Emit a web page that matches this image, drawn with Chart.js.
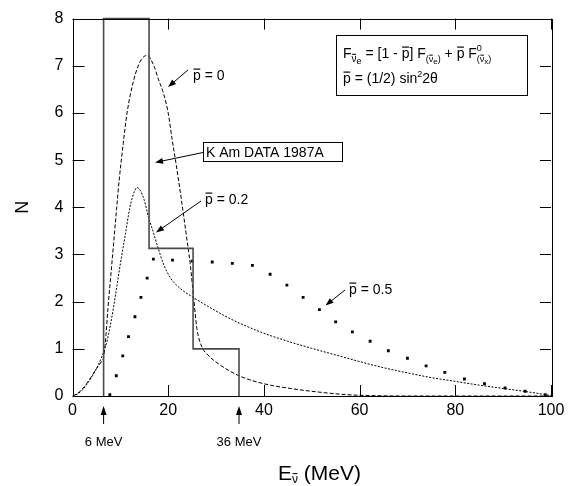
<!DOCTYPE html>
<html>
<head>
  <title>SN1987A spectrum</title>
  <script src="https://cdn.jsdelivr.net/npm/chart.js"></script>
  <style>
    html, body { margin: 0; padding: 0; background: #fff; }
    #wrap { width: 572px; height: 486px; }
  </style>
</head>
<body>
<div id="wrap"><canvas id="spec" width="572" height="486"></canvas></div>

<script>
  const FONT = '"Liberation Sans", Arial, sans-serif';

  // histogram (K Am data 1987A): bin edges and heights
  const histEdges = [6.5, 16, 25.2, 34.8];
  const histHeights = [8, 3.13, 1];

  // p = 0 curve
  const p0E = [0, 1, 2, 3, 4, 5, 6, 6.5, 7, 7.4, 8, 8.6, 9.2, 9.8, 10.6, 11.4, 12.8, 14.2, 15.6, 17, 18, 19, 20, 20.8, 21.6, 22.9, 23.8, 24.6, 25.3, 26, 27, 28.1, 30, 32.5, 35, 40, 45.5, 50, 57, 62, 70, 100];
  const p0N = [0, 0.05, 0.14, 0.27, 0.42, 0.58, 0.72, 0.82, 1.3, 1.85, 2.55, 3.24, 3.95, 4.62, 5.35, 6.0, 6.7, 7.1, 7.22, 7.0, 6.7, 6.42, 6.0, 5.45, 4.95, 4.06, 3.4, 2.8, 2.1, 1.43, 1.05, 0.89, 0.72, 0.55, 0.42, 0.26, 0.16, 0.1, 0.03, 0.01, 0, 0];

  // p = 0.2 curve
  const p02E = [0, 1, 2, 3, 4, 5, 6, 7, 8, 9, 10, 11, 12, 13, 13.5, 14.2, 15, 15.9, 16.8, 17.7, 19, 20.5, 22.5, 24.6, 28, 31.6, 35, 40, 45, 50, 55, 60, 65, 70, 75, 80, 85, 90, 95, 100];
  const p02N = [0, 0.04, 0.12, 0.25, 0.4, 0.58, 0.8, 1.08, 1.55, 2.15, 2.8, 3.4, 4.0, 4.35, 4.42, 4.35, 4.15, 3.79, 3.5, 3.2, 2.8, 2.5, 2.28, 2.13, 1.92, 1.71, 1.54, 1.33, 1.16, 1.01, 0.87, 0.73, 0.6, 0.49, 0.39, 0.31, 0.23, 0.16, 0.09, 0.01];

  // p = 0.5 curve (dots)
  const p05E = [7.8, 9.15, 10.5, 11.7, 13.05, 14.3, 15.6, 16.9, 20.9, 25.0, 29.2, 33.4, 37.6, 41.3, 44.8, 48.2, 51.6, 55.0, 58.5, 62.2, 66.0, 70.0, 73.9, 77.8, 81.9, 86.1, 90.4, 94.6, 98.8];
  const p05N = [0.03, 0.43, 0.85, 1.26, 1.68, 2.09, 2.5, 2.9, 2.88, 2.86, 2.84, 2.81, 2.77, 2.58, 2.35, 2.09, 1.83, 1.57, 1.36, 1.16, 0.96, 0.8, 0.64, 0.5, 0.36, 0.26, 0.17, 0.1, 0.03];

  const xTicks = [0, 20, 40, 60, 80, 100];
  const yTicks = [0, 1, 2, 3, 4, 5, 6, 7, 8];

  const pts = (xs, ys) => xs.map((x, i) => ({x: x, y: ys[i]}));

  const histPts = [];
  histHeights.forEach((h, i) => {
    if (i === 0) histPts.push({x: histEdges[0], y: 0});
    histPts.push({x: histEdges[i], y: h});
    histPts.push({x: histEdges[i + 1], y: h});
  });
  histPts.push({x: histEdges[histEdges.length - 1], y: 0});

  // little helpers for the drawn annotations
  function arrow(ctx, x1, y1, x2, y2, head) {
    const a = Math.atan2(y2 - y1, x2 - x1);
    head = head || 8;
    ctx.beginPath();
    ctx.moveTo(x1, y1);
    ctx.lineTo(x2 - Math.cos(a) * head * 0.7, y2 - Math.sin(a) * head * 0.7);
    ctx.stroke();
    ctx.beginPath();
    ctx.moveTo(x2, y2);
    ctx.lineTo(x2 - head * Math.cos(a) + 3 * Math.sin(a), y2 - head * Math.sin(a) - 3 * Math.cos(a));
    ctx.lineTo(x2 - head * Math.cos(a) - 3 * Math.sin(a), y2 - head * Math.sin(a) + 3 * Math.cos(a));
    ctx.closePath();
    ctx.fill();
  }

  // parts: [text, size, dy, bar, noAdvance]
  function rich(ctx, x, y, parts) {
    parts.forEach(p => {
      const [t, size, dy, bar, keep] = p;
      ctx.font = size + 'px ' + FONT;
      const w = ctx.measureText(t).width;
      ctx.fillText(t, x, y + (dy || 0));
      if (bar) {
        const by = y + (dy || 0) - size * 0.82;
        ctx.fillRect(x + 0.5, by, w - 1, Math.max(1, size / 12));
      }
      if (!keep) x += w;
    });
    return x;
  }

  const decor = {
    id: 'decor',
    afterDraw(chart) {
      const {ctx, chartArea: a, scales: {x, y}} = chart;
      ctx.save();
      ctx.strokeStyle = '#000';
      ctx.fillStyle = '#000';
      ctx.lineWidth = 1;
      // frame
      ctx.strokeRect(Math.round(a.left) + 0.5, Math.round(a.top) + 0.5, Math.round(a.right - a.left), Math.round(a.bottom - a.top));
      // inward ticks
      ctx.beginPath();
      xTicks.forEach(v => {
        const px = Math.round(x.getPixelForValue(v)) + 0.5;
        ctx.moveTo(px, a.bottom); ctx.lineTo(px, a.bottom - 11);
        ctx.moveTo(px, a.top); ctx.lineTo(px, a.top + 11);
      });
      yTicks.forEach(v => {
        const py = Math.round(y.getPixelForValue(v)) + 0.5;
        ctx.moveTo(a.left, py); ctx.lineTo(a.left + 12, py);
        ctx.moveTo(a.right, py); ctx.lineTo(a.right - 11, py);
      });
      ctx.stroke();

      ctx.textBaseline = 'alphabetic';
      ctx.textAlign = 'left';

      // formula box
      ctx.fillStyle = '#fff';
      ctx.fillRect(336, 35, 192, 60);
      ctx.strokeRect(336.5, 35.5, 191, 60);
      ctx.fillStyle = '#000';
      rich(ctx, 343, 58, [
        ['F', 14], ['ν', 10, 4, true], ['e', 9, 6],
        [' = [1 - ', 14], ['p', 14, 0, true], ['] F', 14],
        ['(', 9, 4], ['ν', 9, 4, true], ['e', 8, 6], [')', 9, 4],
        [' + ', 14], ['p', 14, 0, true], [' F', 14],
        ['0', 9, -7, false, true],
        ['(', 9, 4], ['ν', 9, 4, true], ['x', 8, 6], [')', 9, 4]
      ]);
      rich(ctx, 343, 83, [
        ['p', 14, 0, true], [' = (1/2) sin', 14], ['2', 9, -6], ['2θ', 14]
      ]);

      // curve labels
      rich(ctx, 193, 80, [['p', 14, 0, true], [' = 0', 14]]);
      arrow(ctx, 188, 70, 168, 87);

      ctx.fillStyle = '#fff';
      ctx.fillRect(203, 142, 139, 20);
      ctx.strokeRect(203.5, 142.5, 139, 19);
      ctx.fillStyle = '#000';
      rich(ctx, 206, 157, [['K Am DATA 1987A', 14]]);
      arrow(ctx, 203, 152.5, 155, 162.5);

      rich(ctx, 205, 204, [['p', 14, 0, true], [' = 0.2', 14]]);
      arrow(ctx, 201, 201, 156, 232.5);

      rich(ctx, 349, 294, [['p', 14, 0, true], [' = 0.5', 14]]);
      arrow(ctx, 345, 290, 325.5, 305.5);

      // threshold arrows under the axis
      const e1 = x.getPixelForValue(histEdges[0]);
      const e2 = x.getPixelForValue(histEdges[histEdges.length - 1]);
      arrow(ctx, e1, 424, e1, 406, 9);
      arrow(ctx, e2, 424, e2, 406, 9);
      ctx.font = '13px ' + FONT;
      ctx.textAlign = 'center';
      ctx.fillText('6 MeV', e1, 446);
      ctx.fillText('36 MeV', e2, 446);

      // x axis title
      ctx.textAlign = 'left';
      rich(ctx, 278, 480, [['E', 21], ['ν', 12, 3, true], [' (MeV)', 21]]);
      ctx.restore();
    }
  };

  new Chart(document.getElementById('spec'), {
    type: 'scatter',
    data: {
      datasets: [
        {
          label: 'K Am DATA 1987A',
          data: histPts,
          showLine: true,
          borderColor: '#4a4a4a',
          borderWidth: 1.6,
          pointRadius: 0,
          clip: 3
        },
        {
          label: 'p = 0',
          data: pts(p0E, p0N),
          showLine: true,
          borderColor: '#000',
          borderWidth: 1,
          borderDash: [4, 2],
          pointRadius: 0,
          cubicInterpolationMode: 'monotone'
        },
        {
          label: 'p = 0.2',
          data: pts(p02E, p02N),
          showLine: true,
          borderColor: '#000',
          borderWidth: 1,
          borderDash: [2, 1.5],
          pointRadius: 0,
          cubicInterpolationMode: 'monotone'
        },
        {
          label: 'p = 0.5',
          data: pts(p05E, p05N),
          showLine: false,
          pointStyle: 'rect',
          pointRadius: 2,
          backgroundColor: '#000',
          borderColor: '#000',
          borderWidth: 0
        }
      ]
    },
    options: {
      responsive: false,
      animation: false,
      layout: { padding: { top: 11, right: 21, left: 0, bottom: 0 } },
      plugins: { legend: { display: false }, tooltip: { enabled: false } },
      scales: {
        x: {
          type: 'linear',
          min: 0,
          max: 100,
          afterBuildTicks: s => { s.ticks = xTicks.map(v => ({value: v})); },
          afterFit: s => { s.height = 90; },
          grid: { display: false, drawTicks: false },
          border: { display: false },
          ticks: { color: '#000', padding: 5, maxRotation: 0, font: { family: FONT, size: 16 } }
        },
        y: {
          type: 'linear',
          min: 0,
          max: 8,
          afterBuildTicks: s => { s.ticks = yTicks.map(v => ({value: v})); },
          afterFit: s => { s.width = 72.5; },
          grid: { display: false, drawTicks: false },
          border: { display: false },
          title: { display: true, text: 'N', color: '#000', padding: { top: 12, bottom: 0 }, font: { family: FONT, size: 18 } },
          ticks: { color: '#000', padding: 9, font: { family: FONT, size: 16 } }
        }
      }
    },
    plugins: [decor]
  });
</script>
</body>
</html>
